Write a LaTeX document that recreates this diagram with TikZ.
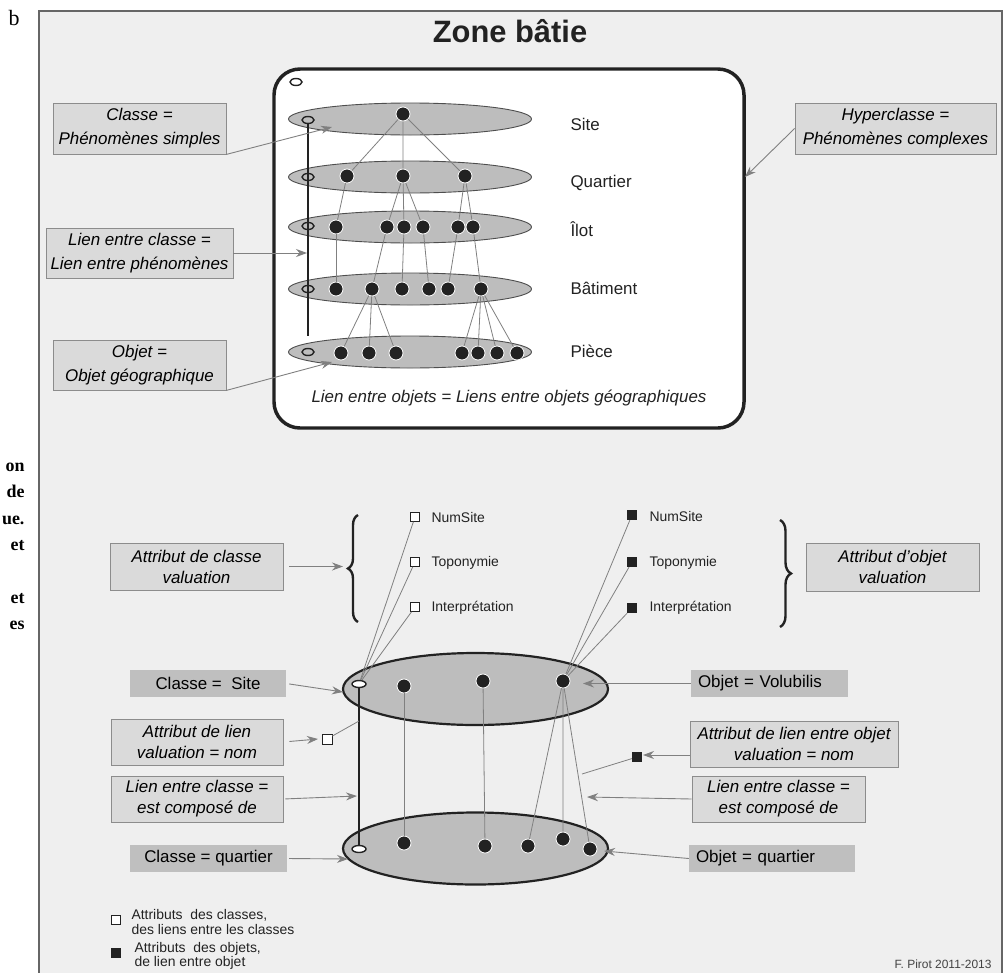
\documentclass[tikz,border=0pt]{standalone}
\usepackage{fontspec}
\setmainfont{Liberation Sans}
\newfontfamily\pagefont{Liberation Serif}
\usetikzlibrary{arrows.meta,shapes.geometric,decorations.pathreplacing}

\definecolor{paper}{HTML}{EFEFEF}
\definecolor{notefill}{HTML}{DADADA}
\definecolor{tagfill}{HTML}{BFBFBF}
\definecolor{setfill}{HTML}{BDBDBD}
\definecolor{ink}{HTML}{222222}
\definecolor{wire}{HTML}{808080}

\begin{document}
\begin{tikzpicture}[x=1bp, y=-1bp,
    layer/.style={ellipse, draw=ink!80, fill=setfill, line width=0.9pt, minimum width=243bp, minimum height=32bp, inner sep=0pt},
    bigset/.style={ellipse, draw=ink, fill=setfill, line width=2.2pt, minimum width=265bp, minimum height=72bp, inner sep=0pt},
    obj/.style={circle, fill=ink, draw=white, line width=0.8pt, minimum size=14bp, inner sep=0pt},
    classmark/.style={ellipse, draw=ink, line width=1.4pt, minimum width=12bp, minimum height=7bp, inner sep=0pt},
    tie/.style={draw=wire, line width=0.8pt},
    arr/.style={draw=wire, line width=0.9pt, -{Stealth[length=11bp, width=8bp]}},
    note/.style={draw=black!45, fill=notefill, line width=0.8pt, font=\fontsize{17}{24}\selectfont\itshape, align=center, inner sep=0pt},
    smallnote/.style={note, font=\fontsize{17}{21}\selectfont\itshape},
    tag/.style={fill=tagfill, font=\fontsize{17}{19}\selectfont, inner sep=0pt, minimum height=27bp},
    lvl/.style={anchor=base west, font=\fontsize{17}{19}\selectfont, text=ink},
    attr/.style={anchor=base west, font=\fontsize{14}{16}\selectfont, text=ink},
    wsq/.style={rectangle, draw=ink, fill=white, line width=0.7pt, minimum size=9bp, inner sep=0pt},
    bsq/.style={rectangle, fill=ink, minimum size=10bp, inner sep=0pt},
    margintext/.style={anchor=base east, font=\pagefont\bfseries\fontsize{18}{18}\selectfont}]

    \useasboundingbox (0,0) rectangle (1008,973);

    % page margin
    \node[anchor=base, font=\pagefont\fontsize{22}{22}\selectfont] (pb) at (14,25) {b};
    \node[margintext] (m1) at (28,471) {on};
    \node[margintext] (m2) at (28,497) {de};
    \node[margintext] (m3) at (28,524) {ue.};
    \node[margintext] (m4) at (28,550) {et};
    \node[margintext] (m5) at (28,603) {et};
    \node[margintext] (m6) at (28,629) {es};

    % frame
    \fill[paper] (39,11) rectangle (1002,973);
    \draw[black!60, line width=1.2pt] (39,973) -- (39,11) -- (1002,11) -- (1002,973);
    \node[anchor=base, font=\bfseries\fontsize{31}{31}\selectfont, text=ink] (title) at (510,42) {Zone bâtie};

    % hyperclasse
    \draw[ink, fill=white, line width=3.5pt, rounded corners=26bp] (274,69) rectangle (744,428);
    \node[classmark] (hc) at (296,82) {};

    \node[layer] (L1) at (410,119) {};
    \node[layer] (L2) at (410,177) {};
    \node[layer] (L3) at (410,227) {};
    \node[layer] (L4) at (410,289) {};
    \node[layer] (L5) at (410,352) {};

    \node[classmark] (c1) at (308,120) {};
    \node[classmark] (c2) at (308,177) {};
    \node[classmark] (c3) at (308,226) {};
    \node[classmark] (c4) at (308,289) {};
    \node[classmark] (c5) at (308,352) {};
    \draw[ink, line width=1.6pt, shorten >=12bp] (c1.south) -- (c5.north);

    \node[obj] (s1) at (403,114) {};
    \node[obj] (q1) at (347,176) {};
    \node[obj] (q2) at (403,176) {};
    \node[obj] (q3) at (465,176) {};
    \node[obj] (i1) at (336,227) {};
    \node[obj] (i2) at (387,227) {};
    \node[obj] (i3) at (404,227) {};
    \node[obj] (i4) at (423,227) {};
    \node[obj] (i5) at (458,227) {};
    \node[obj] (i6) at (473,227) {};
    \node[obj] (b1) at (336,289) {};
    \node[obj] (b2) at (372,289) {};
    \node[obj] (b3) at (402,289) {};
    \node[obj] (b4) at (429,289) {};
    \node[obj] (b5) at (448,289) {};
    \node[obj] (b6) at (481,289) {};
    \node[obj] (p1) at (341,353) {};
    \node[obj] (p2) at (369,353) {};
    \node[obj] (p3) at (396,353) {};
    \node[obj] (p4) at (462,353) {};
    \node[obj] (p5) at (478,353) {};
    \node[obj] (p6) at (497,353) {};
    \node[obj] (p7) at (517,353) {};

    \draw[tie] (q1) -- (s1) -- (q2);
    \draw[tie] (s1) -- (q3);
    \draw[tie] (q1) -- (i1);
    \draw[tie] (i2) -- (q2) -- (i3);
    \draw[tie] (q2) -- (i4);
    \draw[tie] (i5) -- (q3) -- (i6);
    \draw[tie] (i1) -- (b1);
    \draw[tie] (i2) -- (b2);
    \draw[tie] (i3) -- (b3);
    \draw[tie] (i4) -- (b4);
    \draw[tie] (i5) -- (b5);
    \draw[tie] (i6) -- (b6);
    \draw[tie] (p1) -- (b2) -- (p2);
    \draw[tie] (b2) -- (p3);
    \draw[tie] (p4) -- (b6) -- (p5);
    \draw[tie] (p6) -- (b6) -- (p7);

    \node[lvl] (tSite) at (567,130) {Site};
    \node[lvl] (tQuar) at (567,187) {Quartier};
    \node[lvl] (tIlot) at (567,236) {Îlot};
    \node[lvl] (tBat) at (567,294) {Bâtiment};
    \node[lvl] (tPiece) at (567,357) {Pièce};
    \node[anchor=base, font=\fontsize{17}{19}\selectfont\itshape, text=ink] (tLinks) at (509,402)
        {Lien entre objets = Liens entre objets géographiques};

    \node[note, minimum width=173bp, minimum height=51bp] (nClass) at (139.5,128.5) {Classe =\\Phénomènes simples};
    \node[note, minimum width=187bp, minimum height=50bp] (nLink) at (139.5,253) {Lien entre classe =\\Lien entre phénomènes};
    \node[note, minimum width=173bp, minimum height=50bp] (nObj) at (139.5,365) {Objet =\\Objet géographique};
    \node[note, minimum width=201bp, minimum height=51bp] (nHyper) at (895.5,128.5) {Hyperclasse =\\Phénomènes complexes};

    \coordinate (aClass) at (332,127);
    \coordinate (aLink) at (307,253);
    \coordinate (aObj) at (332,362);
    \coordinate (aHyper) at (745,177);
    \draw[arr] (nClass.south east) -- (aClass);
    \draw[arr] (nLink.east) -- (aLink);
    \draw[arr] (nObj.south east) -- (aObj);
    \draw[arr] (nHyper.west) -- (aHyper);

    % classe et objet
    \node[bigset] (E1) at (475.5,689) {};
    \node[bigset] (E2) at (475.5,848.5) {};
    \node[classmark, fill=white, minimum width=14bp] (cs) at (359,684) {};
    \node[classmark, fill=white, minimum width=14bp] (cq) at (359,849) {};
    \draw[ink, line width=3pt] (cs.south) -- (cq.north);

    \node[obj] (t1) at (404,686) {};
    \node[obj] (t2) at (483,681) {};
    \node[obj] (t3) at (563,681) {};
    \node[obj] (u1) at (404,843) {};
    \node[obj] (u2) at (485,846) {};
    \node[obj] (u3) at (528,846) {};
    \node[obj] (u4) at (563,839) {};
    \node[obj] (u5) at (590,849) {};
    \draw[tie] (t1) -- (u1);
    \draw[tie] (t2) -- (u2);
    \draw[tie] (u3) -- (t3) -- (u4);
    \draw[tie] (t3) -- (u5);

    \node[wsq] (w1) at (415,517) {};
    \node[wsq] (w2) at (415,562) {};
    \node[wsq] (w3) at (415,607) {};
    \node[attr] (tw1) at (428,522) {NumSite};
    \node[attr] (tw2) at (428,566) {Toponymie};
    \node[attr] (tw3) at (428,611) {Interprétation};
    \draw[tie] (cs) -- (w1);
    \draw[tie] (cs) -- (w2);
    \draw[tie] (cs) -- (w3);

    \node[bsq] (k1) at (632,515) {};
    \node[bsq] (k2) at (632,562) {};
    \node[bsq] (k3) at (632,608) {};
    \node[attr] (tk1) at (646,521) {NumSite};
    \node[attr] (tk2) at (646,566) {Toponymie};
    \node[attr] (tk3) at (646,611) {Interprétation};
    \draw[tie] (t3) -- (k1);
    \draw[tie] (t3) -- (k2);
    \draw[tie] (t3) -- (k3);

    \coordinate (brL1) at (358,622);
    \coordinate (brL2) at (358,515);
    \coordinate (brR1) at (780,520);
    \coordinate (brR2) at (780,627);
    \draw[ink, line width=2.4pt, decorate, decoration={brace, amplitude=10bp}] (brL1) -- (brL2);
    \draw[ink, line width=2.4pt, decorate, decoration={brace, amplitude=11bp}] (brR1) -- (brR2);

    \node[smallnote, minimum width=173bp, minimum height=47bp] (nAttrC) at (196.5,566.5) {Attribut de classe\\valuation};
    \node[smallnote, minimum width=173bp, minimum height=48bp] (nAttrO) at (892.5,567) {Attribut d'objet\\valuation};
    \coordinate (aAttrC) at (343,566.5);
    \draw[arr, shorten <=6bp] (nAttrC.east) -- (aAttrC);

    \node[wsq, minimum size=10bp] (wl) at (327,739) {};
    \coordinate (lkC) at (359,721);
    \draw[tie] (wl) -- (lkC);
    \node[bsq] (kl) at (637,757) {};
    \coordinate (lkO) at (582,774);
    \draw[tie] (kl) -- (lkO);

    \node[tag, minimum width=156bp] (gSite) at (208,683.5) {Classe =~ Site};
    \node[smallnote, minimum width=172bp, minimum height=46bp] (nAttrL) at (197,742) {Attribut de lien\\valuation = nom};
    \node[smallnote, minimum width=172bp, minimum height=46bp] (nCompL) at (197,799) {Lien entre classe =\\est composé de};
    \node[tag, minimum width=157bp] (gQuar) at (208.5,858.5) {Classe = quartier};
    \node[tag, minimum width=157bp, text width=143bp, align=left] (gVol) at (769.5,683.5) {Objet = Volubilis};
    \node[smallnote, minimum width=208bp, minimum height=46bp] (nAttrLO) at (794,744) {Attribut de lien entre objet\\valuation = nom};
    \node[smallnote, minimum width=173bp, minimum height=46bp] (nCompR) at (778.5,799) {Lien entre classe =\\est composé de};
    \node[tag, minimum width=166bp, text width=152bp, align=left] (gOQuar) at (772,858.5) {Objet = quartier};

    \coordinate (aSite) at (343,692);
    \coordinate (aWl) at (318,739);
    \coordinate (aCompL) at (357,796);
    \coordinate (aQuar) at (348,859);
    \coordinate (aVol) at (583,683.5);
    \coordinate (aKl) at (643,755);
    \coordinate (aCompR) at (587,797);
    \coordinate (aOQuar) at (604,851);
    \draw[arr, shorten <=3bp] (gSite.east) -- (aSite);
    \draw[arr, shorten <=6bp] (nAttrL.east) -- (aWl);
    \draw[arr, shorten <=2bp] (nCompL.east) -- (aCompL);
    \draw[arr, shorten <=2bp] (gQuar.east) -- (aQuar);
    \draw[arr] (gVol.west) -- (aVol);
    \draw[arr] (nAttrLO.west |- aKl) -- (aKl);
    \draw[arr] (nCompR.west) -- (aCompR);
    \draw[arr] (gOQuar.west) -- (aOQuar);

    % legend
    \node[wsq] (lw) at (116,920) {};
    \node[anchor=west, align=left, font=\fontsize{14}{14.5}\selectfont, text=ink] (tlw) at (128,922)
        {Attributs~ des classes,\\des liens entre les classes};
    \node[bsq] (lk) at (116,953) {};
    \node[anchor=west, align=left, font=\fontsize{14}{14.5}\selectfont, text=ink] (tlk) at (131,956)
        {Attributs~ des objets,\\de lien entre objet};
    \node[anchor=base east, font=\fontsize{12}{12}\selectfont, text=ink!85] (sign) at (995,968) {F. Pirot 2011-2013};
\end{tikzpicture}
\end{document}
